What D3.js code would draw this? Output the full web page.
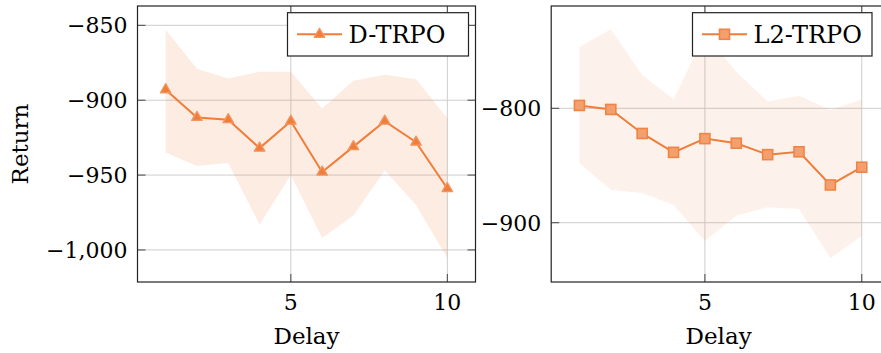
<!DOCTYPE html>
<html lang="en">
<head>
	<meta charset="UTF-8">
	<title>Return vs Delay</title>
	<style>
		body {
			margin: 0;
			background: #fff;
		}
		svg {
			display: block;
		}
		.tick-label, .axis-title, .legend-label {
			font-family: "DejaVu Serif", "Liberation Serif", serif;
			font-size: 22px;
			fill: #000;
		}
		.axis-title {
			font-size: 23px;
		}
		.legend-label {
			font-size: 24px;
		}
	</style>
</head>
<body>
	<svg></svg>
</body>
<script src="https://cdnjs.cloudflare.com/ajax/libs/d3/7.8.5/d3.min.js"></script>
<script>
	const width = 881,
		height = 353;

	// data
	const delays = [1, 2, 3, 4, 5, 6, 7, 8, 9, 10];
	const dtrpoMean  = [-893, -911.5, -913, -932, -914, -948, -931, -914, -928, -959];
	const dtrpoUpper = [-853, -879, -885.5, -881, -881, -905.5, -887, -883, -886, -912];
	const dtrpoLower = [-935, -944, -942, -983, -950, -992, -977, -947, -970, -1005.5];
	const l2Mean  = [-797.5, -801, -822, -838.5, -826.5, -830.5, -840.5, -838, -867, -851.5];
	const l2Upper = [-746.5, -731, -771, -792, -735, -768, -794, -789, -801.5, -792];
	const l2Lower = [-848, -871.5, -874, -884.5, -916, -894, -886.5, -888, -931, -911.5];
	const xTicks = [5, 10];
	const leftYTicks = [-850, -900, -950, -1000];
	const rightYTicks = [-800, -900];
	const seriesNames = ['D-TRPO', 'L2-TRPO'];

	const orange = '#f07e3a';

	const svg = d3.select('svg')
		.attr('width', width)
		.attr('height', height);

	const panels = [
		{
			name: seriesNames[0], mean: dtrpoMean, upper: dtrpoUpper, lower: dtrpoLower,
			yTicks: leftYTicks, yDomain: [-1021.4, -837.1],
			left: 137.5, right: 475.5, top: 6, bottom: 282,
			bandOpacity: 0.15, marker: 'triangle',
			markFill: '#f07e3a', markStroke: '#f39560',
			legend: { x: 287.5, w: 181 },
			yTitle: 'Return'
		},
		{
			name: seriesNames[1], mean: l2Mean, upper: l2Upper, lower: l2Lower,
			yTicks: rightYTicks, yDomain: [-951.8, -710.6],
			left: 551.2, right: 890, top: 6, bottom: 282,
			bandOpacity: 0.1, marker: 'square',
			markFill: '#f3a06e', markStroke: '#f08444',
			legend: { x: 692.5, w: 179.5 },
			yTitle: null
		}
	];

	const fmt = v => (v < 0 ? '\u2212' : '') + d3.format(',')(Math.abs(v));

	function drawMarker(g, type, cx, cy, fill, stroke) {
		if (type === 'triangle') {
			const s = 10.5, h = s * Math.sqrt(3) / 2;
			g.append('path')
				.attr('d', `M${cx},${cy - h * 2 / 3}L${cx + s / 2},${cy + h / 3}L${cx - s / 2},${cy + h / 3}Z`)
				.attr('fill', fill)
				.attr('stroke', stroke)
				.attr('stroke-width', 1.3)
				.attr('stroke-linejoin', 'round');
		} else {
			const s = 10;
			g.append('rect')
				.attr('x', cx - s / 2)
				.attr('y', cy - s / 2)
				.attr('width', s)
				.attr('height', s)
				.attr('fill', fill)
				.attr('stroke', stroke)
				.attr('stroke-width', 1.6);
		}
	}

	panels.forEach((p, pi) => {
		const x = d3.scaleLinear().domain([0.1, 10.9]).range([p.left, p.right]);
		const y = d3.scaleLinear().domain(p.yDomain).range([p.bottom, p.top]);
		const g = svg.append('g');

		const clipId = 'clip' + pi;
		svg.append('clipPath').attr('id', clipId)
			.append('rect')
			.attr('x', p.left).attr('y', p.top)
			.attr('width', p.right - p.left).attr('height', p.bottom - p.top);

		// grid
		const grid = g.append('g').attr('stroke', '#cdcdcd').attr('stroke-width', 1);
		xTicks.forEach(t => {
			grid.append('line')
				.attr('x1', x(t)).attr('x2', x(t))
				.attr('y1', p.top).attr('y2', p.bottom);
		});
		p.yTicks.forEach(t => {
			grid.append('line')
				.attr('x1', p.left).attr('x2', p.right)
				.attr('y1', y(t)).attr('y2', y(t));
		});

		// band
		const rows = delays.map((d, i) => ({ d, m: p.mean[i], lo: p.lower[i], hi: p.upper[i] }));
		const area = d3.area()
			.x(r => x(r.d))
			.y0(r => y(r.lo))
			.y1(r => y(r.hi));
		const inner = g.append('g').attr('clip-path', `url(#${clipId})`);
		inner.append('path')
			.attr('d', area(rows))
			.attr('fill', orange)
			.attr('fill-opacity', p.bandOpacity);

		// mean line
		const line = d3.line().x(r => x(r.d)).y(r => y(r.m));
		inner.append('path')
			.attr('d', line(rows))
			.attr('fill', 'none')
			.attr('stroke', orange)
			.attr('stroke-width', 2);
		rows.forEach(r => drawMarker(inner, p.marker, x(r.d), y(r.m), p.markFill, p.markStroke));

		// ticks on all four sides, pointing in
		const ticks = g.append('g').attr('stroke', '#444').attr('stroke-width', 1);
		const tl = 8;
		xTicks.forEach(t => {
			ticks.append('line').attr('x1', x(t)).attr('x2', x(t)).attr('y1', p.bottom).attr('y2', p.bottom - tl);
			ticks.append('line').attr('x1', x(t)).attr('x2', x(t)).attr('y1', p.top).attr('y2', p.top + tl);
		});
		p.yTicks.forEach(t => {
			ticks.append('line').attr('x1', p.left).attr('x2', p.left + tl).attr('y1', y(t)).attr('y2', y(t));
			ticks.append('line').attr('x1', p.right).attr('x2', p.right - tl).attr('y1', y(t)).attr('y2', y(t));
		});

		// frame
		g.append('rect')
			.attr('x', p.left).attr('y', p.top)
			.attr('width', p.right - p.left).attr('height', p.bottom - p.top)
			.attr('fill', 'none')
			.attr('stroke', '#222')
			.attr('stroke-width', 1.2);

		// tick labels
		xTicks.forEach(t => {
			g.append('text')
				.attr('class', 'tick-label')
				.attr('x', x(t)).attr('y', 309.5)
				.attr('text-anchor', 'middle')
				.text(fmt(t));
		});
		p.yTicks.forEach(t => {
			g.append('text')
				.attr('class', 'tick-label')
				.attr('x', p.left - 10).attr('y', y(t) + 8)
				.attr('text-anchor', 'end')
				.text(fmt(t));
		});

		// axis titles
		g.append('text')
			.attr('class', 'axis-title')
			.attr('x', (p.left + Math.min(p.right, 891)) / 2 - (pi ? 2 : 0))
			.attr('y', 344)
			.attr('text-anchor', 'middle')
			.text('Delay');
		if (p.yTitle) {
			g.append('text')
				.attr('class', 'axis-title')
				.attr('transform', `translate(28,${(p.top + p.bottom) / 2}) rotate(-90)`)
				.attr('text-anchor', 'middle')
				.text(p.yTitle);
		}

		// legend
		const lg = g.append('g');
		lg.append('rect')
			.attr('x', p.legend.x).attr('y', 12.7)
			.attr('width', p.legend.w).attr('height', 43.3)
			.attr('fill', '#fff')
			.attr('stroke', '#222')
			.attr('stroke-width', 1.2);
		const ly = 34.3;
		lg.append('line')
			.attr('x1', p.legend.x + 9.5).attr('x2', p.legend.x + 54.5)
			.attr('y1', ly).attr('y2', ly)
			.attr('stroke', orange).attr('stroke-width', 2);
		drawMarker(lg, p.marker, p.legend.x + 32, ly, p.markFill, p.markStroke);
		lg.append('text')
			.attr('class', 'legend-label')
			.attr('x', p.legend.x + 61).attr('y', ly + 8.7)
			.text(p.name);
	});
</script>
</html>
